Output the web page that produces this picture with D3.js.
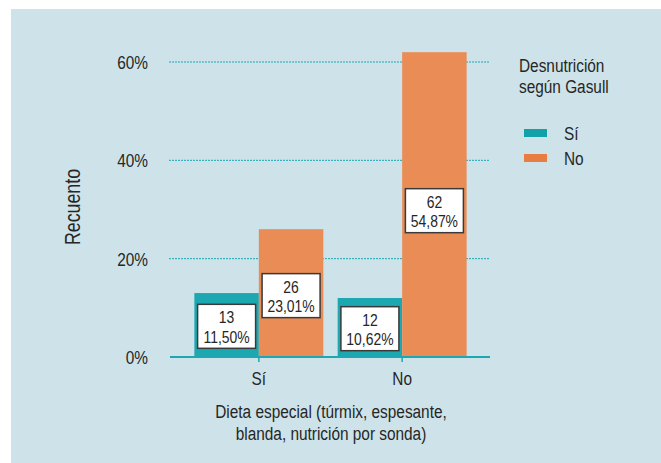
<!DOCTYPE html>
<html>
<head>
<meta charset="utf-8">
<script src="https://cdn.jsdelivr.net/npm/d3@7"></script>
<style>
  html, body { margin: 0; padding: 0; background: #fff; }
  svg text { font-family: "Liberation Sans", Arial, sans-serif; fill: #262626; }
</style>
</head>
<body>
<div id="chart"></div>
<script>
// Data
const categories = ["Sí", "No"];           // Dieta especial
const series = ["Sí", "No"];               // Desnutrición según Gasull
const counts = [[13, 26], [12, 62]];       // per category, per series
const percents = [["11,50%", "23,01%"], ["10,62%", "54,87%"]];
const yTicks = [0, 20, 40, 60];

const width = 661;
const height = 463;

const barColors = ["#1ca7b1", "#ea8c55"];
const legendColors = ["#12a0a9", "#e97c40"];
const teal = "#1ca7b1";
const fontSize = "19px";

// the original uses a condensed face; squeeze a regular one horizontally
const sx = 0.81;
const squeeze = (x, y, extra = "", k = sx) => `translate(${x},${y}) ${extra} scale(${k},1)`;

const svg = d3.select("#chart")
  .append("svg")
  .attr("width", width)
  .attr("height", height);

// panel background
svg.append("rect")
  .attr("x", 11).attr("y", 9)
  .attr("width", width - 11).attr("height", height - 9)
  .attr("fill", "#cde3e9");

// scales
const x0 = d3.scaleBand()
  .domain(categories)
  .range([170, 491])
  .paddingInner(0.1)
  .paddingOuter(0.17);

const x1 = d3.scaleBand()
  .domain(series)
  .range([0, x0.bandwidth()]);

const y = d3.scaleLinear()
  .domain([0, 60])
  .range([357, 62]);

// gridlines
svg.append("g")
  .selectAll("line")
  .data(yTicks.filter(d => d > 0))
  .join("line")
  .attr("x1", 169).attr("x2", 490)
  .attr("y1", d => y(d)).attr("y2", d => y(d))
  .attr("stroke", teal)
  .attr("stroke-width", 1)
  .attr("stroke-dasharray", "2,1");

// y tick labels
svg.append("g")
  .selectAll("text")
  .data(yTicks)
  .join("text")
  .attr("transform", d => squeeze(148, y(d) + 7))
  .attr("text-anchor", "end")
  .style("font-size", fontSize)
  .text(d => d + "%");

// bars
const groups = svg.append("g")
  .selectAll("g")
  .data(categories)
  .join("g")
  .attr("transform", d => `translate(${x0(d)},0)`);

groups.selectAll("rect")
  .data((c, i) => series.map((s, j) => ({ s, j, v: counts[i][j] })))
  .join("rect")
  .attr("x", d => x1(d.s))
  .attr("y", d => y(d.v))
  .attr("width", x1.bandwidth())
  .attr("height", d => y(0) - y(d.v))
  .attr("fill", d => barColors[d.j]);

// value boxes
const boxW = 58, boxH = 44;
const labels = groups.selectAll("g.lbl")
  .data((c, i) => series.map((s, j) => ({ s, j, v: counts[i][j], p: percents[i][j] })))
  .join("g")
  .attr("class", "lbl")
  .attr("transform", d => `translate(${x1(d.s) + x1.bandwidth() / 2},${y(d.v * 0.48)})`);

labels.append("rect")
  .attr("x", -boxW / 2).attr("y", -boxH / 2)
  .attr("width", boxW).attr("height", boxH)
  .attr("fill", "#fff")
  .attr("stroke", "#3a3a3a")
  .attr("stroke-width", 1.5);

const boxText = labels.append("text")
  .attr("transform", squeeze(0, -3, "", 0.82))
  .attr("text-anchor", "middle")
  .style("font-size", "17px");
boxText.append("tspan").attr("x", 0).attr("y", 0).text(d => d.v);
boxText.append("tspan").attr("x", 0).attr("y", 19.5).text(d => d.p);

// x axis line and ticks
svg.append("line")
  .attr("x1", 170).attr("x2", 490)
  .attr("y1", 357).attr("y2", 357)
  .attr("stroke", teal)
  .attr("stroke-width", 2);

svg.append("g")
  .selectAll("line")
  .data(categories)
  .join("line")
  .attr("x1", d => x0(d) + x0.bandwidth() / 2)
  .attr("x2", d => x0(d) + x0.bandwidth() / 2)
  .attr("y1", 357).attr("y2", 362)
  .attr("stroke", teal)
  .attr("stroke-width", 1.5);

svg.append("g")
  .selectAll("text")
  .data(categories)
  .join("text")
  .attr("transform", d => squeeze(x0(d) + x0.bandwidth() / 2, 385))
  .attr("text-anchor", "middle")
  .style("font-size", fontSize)
  .text(d => d);

// axis titles
const xTitle = svg.append("text")
  .attr("transform", squeeze(331, 418))
  .attr("text-anchor", "middle")
  .style("font-size", fontSize);
xTitle.append("tspan").attr("x", 0).attr("y", 0).text("Dieta especial (túrmix, espesante,");
xTitle.append("tspan").attr("x", 0).attr("y", 22).text("blanda, nutrición por sonda)");

svg.append("text")
  .attr("transform", squeeze(80, 207, "rotate(-90)"))
  .attr("text-anchor", "middle")
  .style("font-size", "22px")
  .text("Recuento");

// legend
const legend = svg.append("g");
const legendTitle = legend.append("text")
  .attr("transform", squeeze(519, 72))
  .style("font-size", fontSize);
legendTitle.append("tspan").attr("x", 0).attr("y", 0).text("Desnutrición");
legendTitle.append("tspan").attr("x", 0).attr("y", 21.5).text("según Gasull");

const items = legend.selectAll("g.item")
  .data(series)
  .join("g")
  .attr("class", "item")
  .attr("transform", (d, i) => `translate(524,${129 + i * 25})`);

items.append("rect")
  .attr("width", 23).attr("height", 8)
  .attr("fill", (d, i) => legendColors[i]);

items.append("text")
  .attr("transform", squeeze(40, 11))
  .style("font-size", fontSize)
  .text(d => d);
</script>
</body>
</html>
